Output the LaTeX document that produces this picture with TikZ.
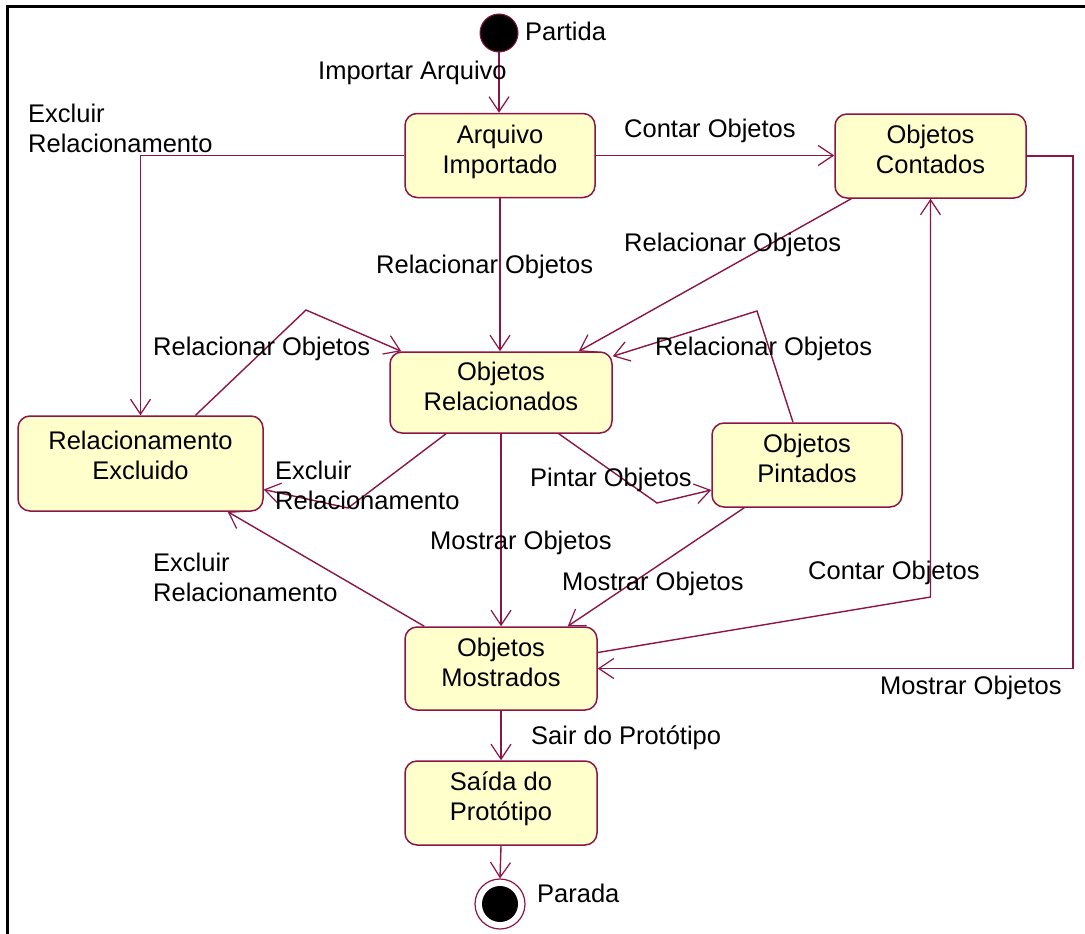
\documentclass[tikz,border=0pt]{standalone}
\usepackage{fontspec}
\setmainfont{Liberation Sans}
\usetikzlibrary{arrows.meta}
\definecolor{umlline}{RGB}{140,20,70}
\definecolor{umlfill}{RGB}{255,255,204}
\begin{document}
\begin{tikzpicture}[x=1pt,y=-1pt,
  font=\fontsize{25.5}{30}\selectfont,
  state/.style={draw=umlline, fill=umlfill, line width=1.5pt, rounded corners=12pt,
    minimum width=190pt, minimum height=84pt, align=center, inner sep=0pt, text depth=13pt},
  trans/.style={draw=umlline, line width=1.4pt,
    -{Straight Barb[length=15pt,width=20pt,line width=1.2pt]}},
  lbl/.style={anchor=west, inner sep=0pt, align=left},
]
\useasboundingbox (0,0) rectangle (1085,934);
% frame
\draw[line width=3pt] (7,934) -- (7,7) -- (1085,7);

% pseudo states
\node[circle, fill=black, draw=umlline, line width=1pt, minimum size=38pt, inner sep=0pt] (ini) at (499,33) {};
\node[circle, draw=umlline, line width=1.2pt, minimum size=50pt, inner sep=0pt] (fim) at (500,904) {};
\node[circle, fill=black, minimum size=36pt, inner sep=0pt] (fimdot) at (fim.center) {};

% states
\node[state] (imp) at (500,155.5) {Arquivo\\Importado};
\node[state, minimum width=191pt] (cnt) at (930.5,156) {Objetos\\Contados};
\node[state, minimum width=222pt, minimum height=81pt] (rel) at (501,392.5) {Objetos\\Relacionados};
\node[state, minimum width=245pt, minimum height=95pt, text depth=17pt] (exc) at (140.5,463.5) {Relacionamento\\Excluido};
\node[state] (pin) at (807,465) {Objetos\\Pintados};
\node[state, minimum width=192pt, minimum height=83pt] (mos) at (501,668.5) {Objetos\\Mostrados};
\node[state, minimum width=192pt] (sai) at (501,803) {Saída do\\Protótipo};

% bend points
\coordinate (kf) at (930.5,597);
\coordinate (kr) at (1073,156);
\coordinate (kh) at (306,310);
\coordinate (ki) at (348,508);
\coordinate (kl) at (657,503);
\coordinate (km) at (757,311);

% transitions
\draw[trans] (ini.south) -- (ini.south |- imp.north);
\draw[trans] (imp.east) -- (imp.east -| cnt.west);
\draw[trans] (imp.west) -| (exc.north);
\draw[trans] (imp.south) -- (imp.south |- rel.north);
\draw[trans] ([xshift=17pt]cnt.south west) -- ([xshift=-34pt]rel.north east);
\draw[trans] ([yshift=16pt]mos.east) -- (kf) -- (cnt.south);
\draw[trans] (cnt.east) -- (cnt.east -| kr) |- (mos.east);
\draw[trans] ([xshift=55pt]exc.north) -- (kh) -- ([xshift=12pt]rel.north west);
\draw[trans] ([xshift=-55pt]rel.south) -- (ki) -- ([yshift=-26pt]exc.east);
\draw[trans] ([xshift=20pt]mos.north west) -- ([xshift=-36pt]exc.south east);
\draw[trans] (rel.south) -- (mos.north);
\draw[trans] ([xshift=-54pt]rel.south east) -- (kl) -- ([yshift=-25pt]pin.west);
\draw[trans] ([xshift=-14pt]pin.north) -- (km) -- ([yshift=-5pt]rel.north east);
\draw[trans] ([xshift=33pt]pin.south west) -- ([xshift=-30pt]mos.north east);
\draw[trans] (mos.south) -- (sai.north);
\draw[trans] (sai.south) -- (fim.north);

% labels
\node[lbl] (lpartida) at (525,31) {Partida};
\node[lbl] (limp) at (318,73) {Importar Arquivo};
\node[lbl] (lexc1) at (28,128) {Excluir\\Relacionamento};
\node[lbl] (lcnt1) at (624,131) {Contar Objetos};
\node[lbl] (lrel1) at (376,267) {Relacionar Objetos};
\node[lbl] (lrel2) at (624,245) {Relacionar Objetos};
\node[lbl] (lrel3) at (153,349) {Relacionar Objetos};
\node[lbl] (lrel4) at (655,349) {Relacionar Objetos};
\node[lbl] (lexc2) at (275,485) {Excluir\\Relacionamento};
\node[lbl] (lpin) at (530,480) {Pintar Objetos};
\node[lbl] (lmos1) at (430,543) {Mostrar Objetos};
\node[lbl] (lexc3) at (153,577) {Excluir\\Relacionamento};
\node[lbl] (lmos2) at (562,584) {Mostrar Objetos};
\node[lbl] (lcnt2) at (808,573) {Contar Objetos};
\node[lbl] (lmos3) at (880,688) {Mostrar Objetos};
\node[lbl] (lsair) at (531,738) {Sair do Protótipo};
\node[lbl] (lparada) at (537,893) {Parada};
\end{tikzpicture}
\end{document}
